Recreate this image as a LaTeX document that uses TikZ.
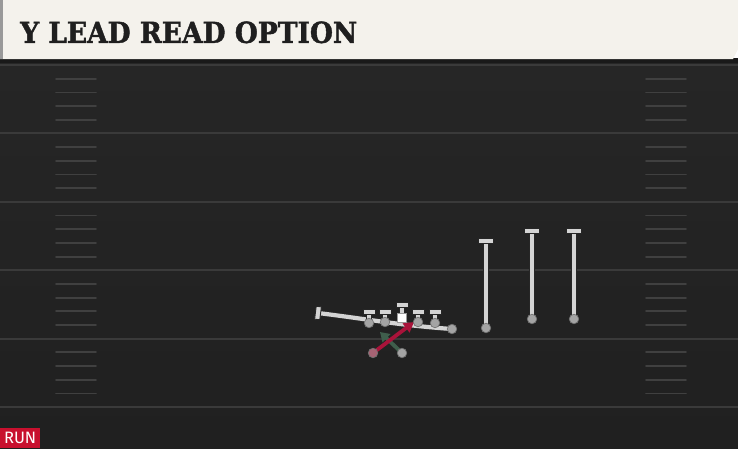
\documentclass[tikz,border=0pt]{standalone}
\usepackage{fontspec}
\setmainfont{DejaVu Serif}[BoldFeatures={FakeBold=1.5}]
\newfontfamily\tagfont{Fira Sans}
\usetikzlibrary{arrows.meta}

\definecolor{fieldbg}{HTML}{262626}
\definecolor{fieldlow}{HTML}{202020}
\definecolor{yardline}{HTML}{3A3A3A}
\definecolor{hashline}{HTML}{404040}
\definecolor{titlebg}{HTML}{F4F2EC}
\definecolor{routegray}{HTML}{D4D4D4}
\definecolor{dotgray}{HTML}{A4A4A4}
\definecolor{readred}{HTML}{A9133A}
\definecolor{motiongreen}{HTML}{3F5E4C}
\definecolor{runred}{HTML}{C8102E}

\begin{document}
\begin{tikzpicture}[x=1pt,y=-1pt,
  route/.style={preaction={draw=black!85, line width=6pt}, draw=routegray, line width=4.2pt},
  tbar/.style={draw=black!85, fill=routegray, line width=0.9pt, minimum width=12pt, minimum height=5.2pt, inner sep=0pt},
  dot/.style={circle, draw=black!55, fill=dotgray, line width=0.7pt, minimum size=9.5pt, inner sep=0pt},
  ctr/.style={draw=black!40, fill=white, minimum size=9pt, inner sep=0pt},
  yardmark/.style={draw=yardline, line width=2pt},
  hashmark/.style={draw=hashline, line width=1.8pt, line cap=round},
  runtag/.style={fill=runred, text=white, font=\tagfont\fontsize{16.5}{16.5}\selectfont, minimum width=40pt, minimum height=20pt, inner sep=0pt}]
\useasboundingbox (0,0) rectangle (738,448);

% Field
\shade[top color=fieldbg, bottom color=fieldlow] (0,58) rectangle (738,448);
\fill[black!90] (0,58) rectangle (738,63);
\foreach \y in {65,133.4,201.8,270.2,338.6,407} \draw[yardmark] (0,\y) -- (738,\y);
\foreach \y in {65,133.4,201.8,270.2,338.6} {
  \foreach \k in {1,...,4} {
    \draw[hashmark] (56,\y+13.7*\k) -- (96,\y+13.7*\k);
    \draw[hashmark] (646,\y+13.7*\k) -- (686,\y+13.7*\k);
  }
}

% Title bar
\fill[titlebg] (0,0) -- (738,0) -- (738,49) -- (733,59) -- (0,59) -- cycle;
\fill[black!40] (0,0) rectangle (2.5,59);
\node[anchor=south west, inner sep=0pt, text=black!88] (title) at (20,43.5)
  {\resizebox{337pt}{21.5pt}{\bfseries Y LEAD READ OPTION}};

% Receivers
\coordinate (z1) at (486,328); \coordinate (z1t) at (486,241);
\coordinate (z2) at (532,319); \coordinate (z2t) at (532,231);
\coordinate (z3) at (574,319); \coordinate (z3t) at (574,231);
\draw[route] (z1) -- (z1t);
\draw[route] (z2) -- (z2t);
\draw[route] (z3) -- (z3t);

% Line and Y lead block
\coordinate (lt) at (369,323); \coordinate (ltt) at (369,312);
\coordinate (lg) at (385,322); \coordinate (lgt) at (385,312);
\coordinate (c) at (402,318);  \coordinate (ct) at (402,305);
\coordinate (rg) at (418,322); \coordinate (rgt) at (418,312);
\coordinate (rt) at (435,323); \coordinate (rtt) at (435,312);
\coordinate (y) at (452,329);  \coordinate (yt) at (318,313);
\draw[route] (y) to[out=176,in=-7] (yt);
\draw[route] (lt) -- (ltt);
\draw[route] (lg) -- (lgt);
\draw[route] (c) -- (ct);
\draw[route] (rg) -- (rgt);
\draw[route] (rt) -- (rtt);

% Backfield
\coordinate (qb) at (373,353); \coordinate (qbt) at (414,322);
\coordinate (rb) at (402,353); \coordinate (rbt) at (380,332);
\draw[motiongreen, line width=3.8pt, -{Triangle[length=9pt,width=11pt]}] (rb) -- (rbt);
\draw[readred, line width=3.8pt, -{Triangle[length=10pt,width=11pt]}] (qb) -- (qbt);

% Ends and players
\node[tbar, minimum width=15pt] (z1b) at (z1t) {};
\node[tbar, minimum width=15pt] (z2b) at (z2t) {};
\node[tbar, minimum width=15pt] (z3b) at (z3t) {};
\node[tbar] (ltb) at (ltt) {};
\node[tbar] (lgb) at (lgt) {};
\node[tbar] (ctb) at (ct) {};
\node[tbar] (rgb) at (rgt) {};
\node[tbar] (rtb) at (rtt) {};
\node[tbar, minimum width=5.2pt, minimum height=13pt, rotate=-7] (ytb) at (yt) {};
\node[dot] (z1d) at (z1) {};
\node[dot] (z2d) at (z2) {};
\node[dot] (z3d) at (z3) {};
\node[dot] (ltd) at (lt) {};
\node[dot] (lgd) at (lg) {};
\node[dot] (rgd) at (rg) {};
\node[dot] (rtd) at (rt) {};
\node[dot] (yd) at (y) {};
\node[ctr] (cd) at (c) {};
\node[dot, fill=readred!45!dotgray] (qbd) at (qb) {};
\node[dot] (rbd) at (rb) {};

% Tag
\node[runtag, anchor=south west] (run) at (0,448) {RUN};
\end{tikzpicture}
\end{document}
